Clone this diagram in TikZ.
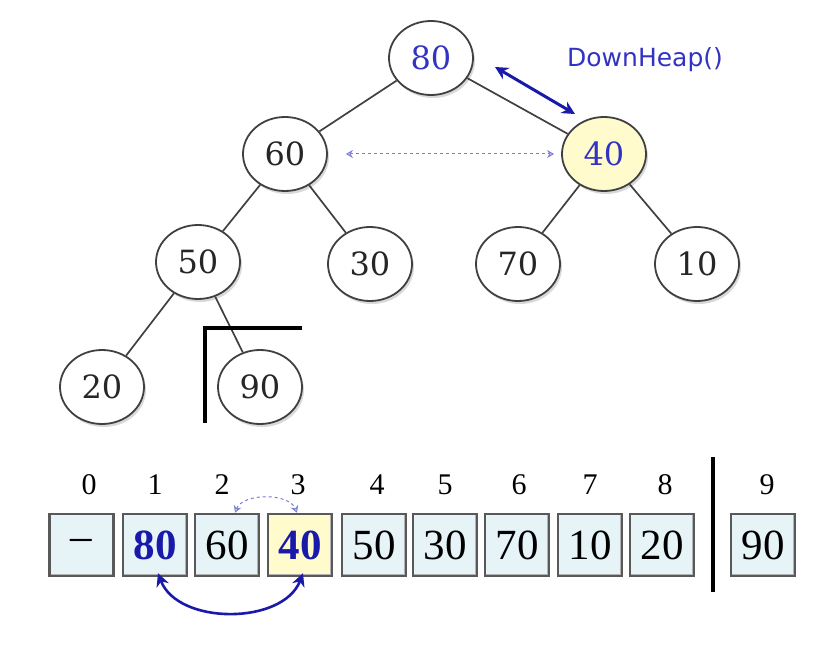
\documentclass[tikz,border=0pt]{standalone}
\usepackage{fontspec}
\newfontfamily\boxfont{Liberation Serif}
\newfontfamily\labfont{DejaVu Sans}
\newfontfamily\treefont{DejaVu Serif}
\usetikzlibrary{shapes.geometric,arrows.meta,shadows}
\definecolor{dblue}{RGB}{25,25,170}
\definecolor{tblue}{RGB}{50,50,195}
\definecolor{lav}{RGB}{125,125,215}
\definecolor{boxfill}{RGB}{230,243,247}
\definecolor{yel}{RGB}{255,251,205}
\tikzset{
  tnode/.style={ellipse, draw=black!75, line width=1.8pt, fill=white,
    minimum width=84pt, minimum height=74pt, inner sep=0pt,
    text=black!85,
    font=\treefont\fontsize{32}{36}\selectfont,
    drop shadow={opacity=0.3, shadow xshift=2pt, shadow yshift=-3pt}},
  edge/.style={draw=black!75, line width=1.7pt},
  abox/.style={rectangle, draw=black!65, line width=2.5pt, fill=boxfill,
    minimum width=64pt, minimum height=62pt, inner sep=0pt,
    font=\boxfont\fontsize{43}{48}\selectfont,
    path picture={\draw[black!30, line width=4pt]
      (path picture bounding box.south west) -- (path picture bounding box.south east)
      -- (path picture bounding box.north east);}},
  idx/.style={font=\boxfont\fontsize{30}{34}\selectfont, inner sep=0pt},
  swap/.style={draw=dblue, line width=3pt, {Stealth[length=13pt,width=13pt]}-{Stealth[length=13pt,width=13pt]}},
  hint/.style={draw=lav, line width=1pt, dashed, {Stealth[length=7pt,width=8pt,open]}-{Stealth[length=7pt,width=8pt,open]}},
  bar/.style={draw=black, line width=4pt}
}
\begin{document}
\begin{tikzpicture}[x=1pt,y=-1pt]
\useasboundingbox (0,0) rectangle (838,652);
% tree
\node[tnode, text=tblue] (n80) at (431,58) {80};
\node[tnode] (n60) at (285,154) {60};
\node[tnode, fill=yel, text=tblue] (n40) at (604,154) {40};
\node[tnode] (n50) at (198,262) {50};
\node[tnode] (n30) at (370,264) {30};
\node[tnode] (n70) at (518,264) {70};
\node[tnode] (n10) at (697,264) {10};
\node[tnode] (n20) at (102,387) {20};
\node[tnode] (n90) at (260,387) {90};
\draw[edge] (n80) -- (n60);
\draw[edge] (n80) -- (n40);
\draw[edge] (n60) -- (n50);
\draw[edge] (n60) -- (n30);
\draw[edge] (n40) -- (n70);
\draw[edge] (n40) -- (n10);
\draw[edge] (n50) -- (n20);
\draw[edge] (n50) -- (n90);
% swap hint in tree
\node[font=\labfont\fontsize{25}{28}\selectfont, text=tblue] (dh) at (645,60) {DownHeap()};
\coordinate (sa) at (495,67);
\coordinate (sb) at (575,114);
\draw[swap] (sa) -- (sb);
\draw[hint] ([xshift=18pt]n60.east) -- ([xshift=-7pt]n40.west);
% corner mark
\coordinate (c1) at (205,423);
\coordinate (c2) at (205,328);
\coordinate (c3) at (302,328);
\draw[bar] (c1) -- (c2) -- (c3);
% array
\node[abox] (b0) at (81.5,545) {\textendash};
\node[abox, text=dblue, font=\boxfont\bfseries\fontsize{43}{48}\selectfont] (b1) at (155,545) {80};
\node[abox] (b2) at (227,545) {60};
\node[abox, fill=yel, text=dblue, font=\boxfont\bfseries\fontsize{43}{48}\selectfont] (b3) at (300,545) {40};
\node[abox] (b4) at (374,545) {50};
\node[abox] (b5) at (445,545) {30};
\node[abox] (b6) at (517,545) {70};
\node[abox] (b7) at (590,545) {10};
\node[abox] (b8) at (662,545) {20};
\node[abox] (b9) at (763,545) {90};
\node[idx] (i0) at (89,485) {0};
\node[idx] (i1) at (155,485) {1};
\node[idx] (i2) at (222,485) {2};
\node[idx] (i3) at (298,485) {3};
\node[idx] (i4) at (377,485) {4};
\node[idx] (i5) at (445,485) {5};
\node[idx] (i6) at (519,485) {6};
\node[idx] (i7) at (590,485) {7};
\node[idx] (i8) at (665,485) {8};
\node[idx] (i9) at (767,485) {9};
\coordinate (s1) at (713,457);
\coordinate (s2) at (713,592);
\draw[bar] (s1) -- (s2);
\draw[swap, line width=2.6pt] ([xshift=3pt,yshift=4pt]b1.south) .. controls +(20,52) and +(-20,52) .. ([xshift=3pt,yshift=4pt]b3.south);
\draw[hint] ([xshift=8pt]b2.north) .. controls +(8,-20) and +(-8,-20) .. ([xshift=-3pt]b3.north);
\end{tikzpicture}
\end{document}
